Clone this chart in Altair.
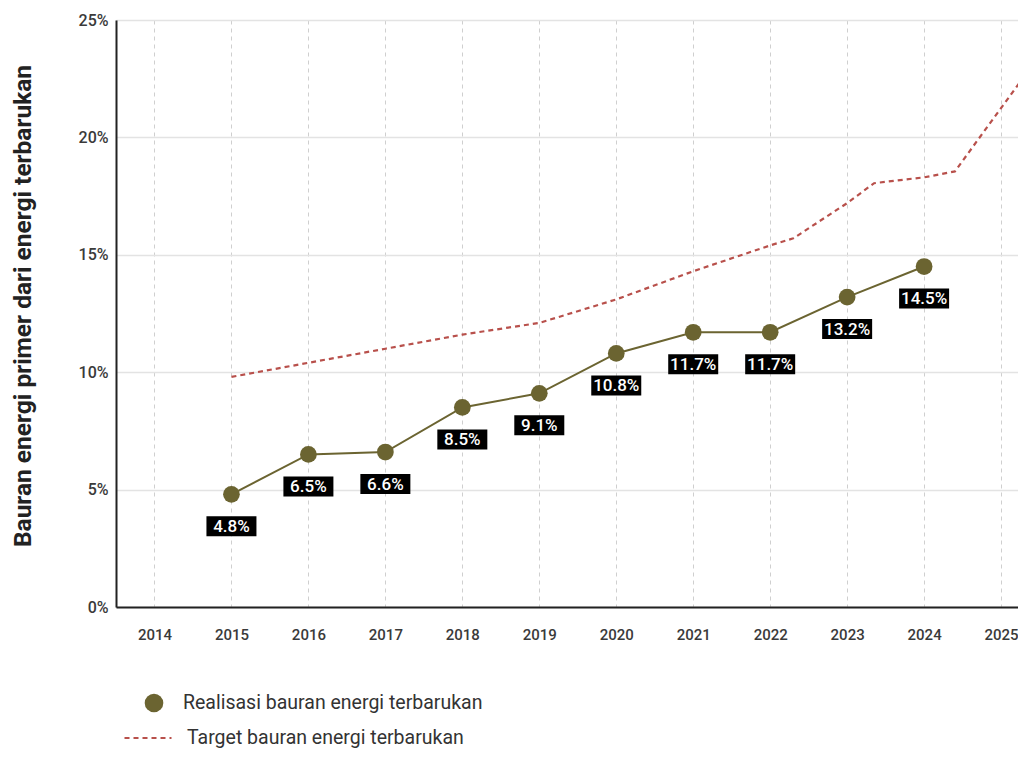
import altair as alt
import pandas as pd

# ---- data ----
years = [2015, 2016, 2017, 2018, 2019, 2020, 2021, 2022, 2023, 2024]
realisasi = [4.8, 6.5, 6.6, 8.5, 9.1, 10.8, 11.7, 11.7, 13.2, 14.5]
labels = ["4.8%", "6.5%", "6.6%", "8.5%", "9.1%", "10.8%", "11.7%", "11.7%", "13.2%", "14.5%"]

target_years = [2015, 2016, 2017, 2018, 2019, 2020, 2021, 2022, 2022.3, 2023, 2023.35, 2024, 2024.4, 2025.3]
target_values = [9.8, 10.4, 11.0, 11.6, 12.1, 13.1, 14.3, 15.4, 15.7, 17.2, 18.05, 18.3, 18.55, 22.6]

x_ticks = list(range(2014, 2026))
y_ticks = [0, 5, 10, 15, 20, 25]

real_name = "Realisasi bauran energi terbarukan"
target_name = "Target bauran energi terbarukan"
y_title = "Bauran energi primer dari energi terbarukan"

df_real = pd.DataFrame({"year": years, "value": realisasi, "label": labels, "series": real_name})
df_target = pd.DataFrame({"year": target_years, "value": target_values, "series": target_name})

OLIVE = "#6b6431"
RED = "#b8504b"
FONT = "Roboto"

x = alt.X(
    "year:Q",
    scale=alt.Scale(domain=[2013.5, 2025.22], nice=False, zero=False),
    axis=alt.Axis(
        values=x_ticks, format="d", title=None, grid=True, gridDash=[4, 4],
        gridColor="#cfcfcf", gridWidth=1, ticks=False, labelPadding=20,
        domainColor="#222222", domainWidth=2, labelFontSize=15, labelColor="#3a3a3a",
        labelFont=FONT, labelFontWeight=500,
    ),
)
y = alt.Y(
    "value:Q",
    scale=alt.Scale(domain=[0, 25], nice=False),
    axis=alt.Axis(
        values=y_ticks, labelExpr="datum.value + '%'", title=y_title, grid=True,
        gridColor="#e3e3e3", gridWidth=1.5, ticks=False, labelPadding=8,
        labelFontSize=16, labelColor="#3a3a3a", labelFont=FONT, labelFontWeight=500,
        titleFontSize=24.5, titleFontWeight="bold", titleColor="#222222", titleFont=FONT,
        titleX=-81, titleY=285.5, titleBaseline="bottom", titleAngle=270,
        domainColor="#222222", domainWidth=2,
    ),
)

target_line = alt.Chart(df_target).mark_line(color=RED, strokeWidth=2.2, clip=True).encode(
    x=x,
    y=y,
    strokeDash=alt.StrokeDash(
        "series:N",
        scale=alt.Scale(domain=[target_name], range=[[5, 4]]),
        legend=alt.Legend(
            title=None, orient="none", legendX=7, legendY=693, symbolType="stroke",
            symbolSize=2209, symbolStrokeColor=RED, symbolStrokeWidth=2.2,
            labelFontSize=19.5, labelColor="#333333", labelOffset=14, padding=0,
            labelFont=FONT, labelLimit=500,
        ),
    ),
)

real_line = alt.Chart(df_real).mark_line(color=OLIVE, strokeWidth=2).encode(x=x, y=y)

points = alt.Chart(df_real).mark_circle(size=280, opacity=1).encode(
    x=x,
    y=y,
    color=alt.Color(
        "series:N",
        scale=alt.Scale(domain=[real_name], range=[OLIVE]),
        legend=alt.Legend(
            title=None, orient="none", legendX=27.5, legendY=672.5, symbolType="circle",
            symbolSize=346, symbolOpacity=1, labelFontSize=19.5, labelColor="#333333",
            labelOffset=18.5, padding=0, labelFont=FONT, labelLimit=500,
        ),
    ),
)

boxes = alt.Chart(df_real).mark_point(
    shape="M-1,-0.4L1,-0.4L1,0.4L-1,0.4Z", size=2500, filled=True,
    color="#000000", opacity=1, strokeWidth=0, yOffset=32,
).encode(x=x, y=y)

texts = alt.Chart(df_real).mark_text(
    color="white", fontSize=17, fontWeight=500, font=FONT, yOffset=32.5, baseline="middle",
).encode(x=x, y=y, text="label:N")

chart = (
    alt.layer(target_line, real_line, points, boxes, texts)
    .resolve_legend(color="independent", strokeDash="independent")
    .properties(
        width=902,
        height=587,
        autosize=alt.AutoSizeParams(type="none"),
        padding={"left": 108, "top": 12, "right": 0, "bottom": 145},
    )
    .configure_view(stroke=None)
    .configure(font=FONT)
)

chart.save("out.html", embed_options={"renderer": "svg", "actions": False})
